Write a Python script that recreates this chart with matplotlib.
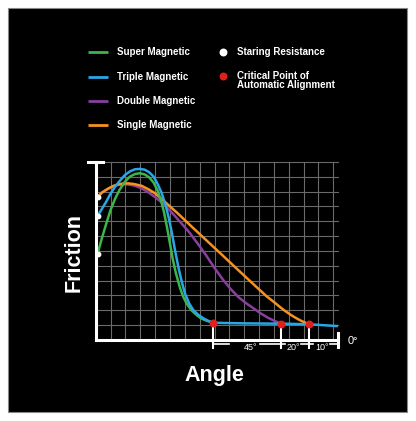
import numpy as np
import matplotlib.pyplot as plt
from matplotlib.patches import Rectangle

plt.rcParams['font.family'] = ['Liberation Sans', 'DejaVu Sans']

# curves (x, y in grid cells)
green_x = [0.13, 0.4, 0.7, 1.0, 1.3, 1.6, 1.97, 2.3, 2.65, 2.98, 3.3, 3.6, 3.9, 4.15, 4.4, 4.6, 4.8,
           5.0, 5.2, 5.4, 5.68, 5.9, 6.13, 6.45, 6.8, 7.1, 7.47, 7.92]
green_y = [5.8, 6.8, 7.8, 8.75, 9.5, 10.1, 10.66, 11.0, 11.18, 11.23, 11.15, 10.95, 10.6, 10.1, 9.4, 8.6, 7.6,
           6.5, 5.4, 4.5, 3.5, 2.9, 2.45, 2.0, 1.68, 1.45, 1.3, 1.16]

blue_x = [0.13, 0.4, 0.7, 1.0, 1.3, 1.65, 1.97, 2.3, 2.65, 2.98, 3.3, 3.6, 3.9, 4.15, 4.44, 4.7, 4.95,
          5.15, 5.35, 5.56, 5.8, 6.01, 6.3, 6.57, 6.9, 7.25, 7.6, 7.92, 10.0, 12.48, 14.38, 16.23]
blue_y = [8.37, 8.8, 9.3, 9.85, 10.32, 10.75, 11.11, 11.35, 11.5, 11.52, 11.47, 11.3, 11.0, 10.55, 9.9, 9.1, 8.1,
          7.1, 6.0, 4.94, 3.9, 3.14, 2.45, 2.02, 1.7, 1.46, 1.28, 1.16, 1.12, 1.1, 1.06, 0.94]

purple_x = [0.13, 0.45, 0.85, 1.2, 1.52, 1.85, 2.2, 2.6, 3.0, 3.5, 4.0, 4.4, 4.78, 5.2, 5.6, 6.0, 6.35,
            6.9, 7.47, 8.0, 8.59, 9.1, 9.6, 10.1, 10.6, 11.1, 11.6, 12.05, 12.48]
purple_y = [9.65, 9.95, 10.2, 10.36, 10.44, 10.48, 10.47, 10.4, 10.25, 9.98, 9.62, 9.3, 8.95, 8.5, 8.05, 7.6, 7.19,
            6.45, 5.65, 4.85, 4.04, 3.42, 2.9, 2.5, 2.15, 1.8, 1.5, 1.28, 1.1]

orange_x = [0.13, 0.45, 0.85, 1.2, 1.52, 1.85, 2.2, 2.6, 3.1, 3.55, 3.99, 4.3, 4.55, 5.5, 6.5, 7.5, 8.5,
            9.5, 10.5, 11.5, 12.05, 12.41, 12.75, 13.08, 13.42, 13.76, 14.08, 14.38]
orange_y = [9.65, 9.95, 10.2, 10.38, 10.48, 10.54, 10.55, 10.5, 10.38, 10.15, 9.88, 9.62, 9.4, 8.55, 7.6, 6.67, 5.74,
            4.8, 3.87, 2.95, 2.52, 2.22, 1.96, 1.73, 1.52, 1.33, 1.18, 1.06]

start_x = [0.13, 0.13, 0.13]
start_y = [9.65, 8.37, 5.8]
crit_x = [7.92, 12.48, 14.38]
crit_y = [1.16, 1.1, 1.06]

spans = ['45°', '20°', '10°']
span_pos = [10.45, 13.28, 15.22]

names = ['Super Magnetic', 'Triple Magnetic', 'Double Magnetic', 'Single Magnetic']
colors = ['#3cb54a', '#2aa6e6', '#8a3f9e', '#f6931e']

W, H = 416, 421
fig = plt.figure(figsize=(W / 100, H / 100), dpi=100)
fig.patch.set_facecolor('white')

# full-figure overlay in pixel units
bg = fig.add_axes([0, 0, 1, 1])
bg.set_xlim(0, W)
bg.set_ylim(H, 0)
bg.axis('off')
bg.add_patch(Rectangle((8, 8), 399, 404, facecolor='black', edgecolor='#888888', lw=0.8))

ly = [52.3, 76.7, 100.7, 125]
for n, c, y in zip(names, colors, ly):
    bg.plot([88.3, 108.3], [y, y], color=c, lw=2, solid_capstyle='butt')
    bg.text(117.3, y, n, color='white', fontsize=7, fontweight='bold', va='center', ha='left')
bg.scatter([223.3], [52.3], s=22, color='white', zorder=3)
bg.text(236.7, 52.3, 'Staring Resistance', color='white', fontsize=7, fontweight='bold', va='center')
bg.scatter([223.3], [75.7], s=22, color='#e0201e', zorder=3)
bg.text(236.7, 75.7, 'Critical Point of', color='white', fontsize=7, fontweight='bold', va='center')
bg.text(236.7, 85.3, 'Automatic Alignment', color='white', fontsize=7, fontweight='bold', va='center')

bg.text(74, 252.5, 'Friction', color='white', fontsize=15.5, fontweight='bold',
        rotation=90, ha='center', va='center')
bg.text(214.5, 376, 'Angle', color='white', fontsize=15.5, fontweight='bold',
        ha='center', va='center')

# chart axes: 1 grid cell = 14.85 px, origin at (95.7, 340)
u = 14.85
x0, x1, y0, y1 = 60, 380, 150, 360
ax = fig.add_axes([x0 / W, (H - y1) / H, (x1 - x0) / W, (y1 - y0) / H])
ax.set_xlim((x0 - 95.7) / u, (x1 - 95.7) / u)
ax.set_ylim((340 - y1) / u, (340 - y0) / u)
ax.axis('off')
ax.patch.set_alpha(0)

gc = '#6a6a6a'
for gx in range(1, 17):
    ax.plot([gx, gx], [0, 12], color=gc, lw=0.8, zorder=1)
for gy in range(1, 13):
    ax.plot([0, 16.3], [gy, gy], color=gc, lw=0.8, zorder=1)

# axes lines
ax.plot([0, 0], [0, 12], color='white', lw=2.2, zorder=5)
ax.plot([-0.52, 0.5], [12, 12], color='white', lw=2.2, zorder=5)
ax.plot([0, 16.3], [0, 0], color='white', lw=2.2, zorder=5)
ax.plot([16.3, 16.3], [0.47, -0.47], color='white', lw=2.2, zorder=5)

ax.plot(purple_x, purple_y, color=colors[2], lw=1.8, zorder=3)
ax.plot(orange_x, orange_y, color=colors[3], lw=1.8, zorder=3)
ax.plot(green_x, green_y, color=colors[0], lw=1.8, zorder=3)
ax.plot(blue_x, blue_y, color=colors[1], lw=1.8, zorder=4)

ax.scatter(start_x, start_y, s=10, color='white', zorder=6)

# angle markers under the axis
for cx, cy in zip(crit_x, crit_y):
    ax.plot([cx, cx], [cy, -0.55], color='white', lw=1.5, zorder=5)
ax.scatter(crit_x, crit_y, s=22, color='#e0201e', zorder=7)

segs = [(7.92, 8.97), (11.07, 12.48), (12.48, 12.75), (13.8, 14.38), (14.38, 14.65), (15.8, 16.3)]
for a, b in segs:
    ax.plot([a, b], [-0.3, -0.3], color='white', lw=1.2, zorder=5)
for t, p in zip(spans, span_pos):
    ax.text(p, -0.5, t, color='white', fontsize=6.5, ha='center', va='center')
ax.text(17.33, -0.1, '0°', color='white', fontsize=8, ha='center', va='center')

fig.savefig('out.png', dpi=100, facecolor='white')
